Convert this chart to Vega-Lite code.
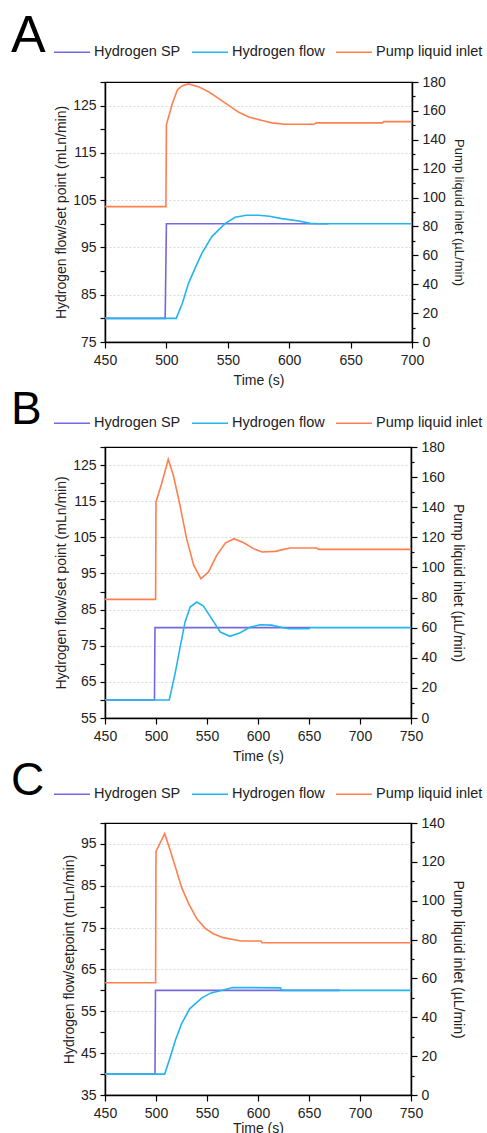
{
  "$schema": "https://vega.github.io/schema/vega-lite/v6.json",
  "autosize": {"type": "pad"},
  "padding": {"left": 10, "top": 9, "right": 0, "bottom": 0},
  "background": "white",
  "config": {
    "font": "Liberation Sans",
    "view": {"stroke": "black", "strokeWidth": 1.2},
    "axis": {
      "domainColor": "black", "domainWidth": 1.5, "tickColor": "black", "tickWidth": 1.2,
      "labelColor": "#222", "labelFontSize": 14, "labelFont": "Liberation Sans", "labelPadding": 4,
      "titleColor": "#222", "titleFontSize": 14, "titleFontWeight": "normal", "titleFont": "Liberation Sans",
      "labelOverlap": false, "labelFlush": false, "gridColor": "#d8d8d8", "gridDash": [2, 2], "gridWidth": 1
    },
    "axisX": {"grid": false, "labelPadding": 5},
    "legend": {"labelFont": "Liberation Sans", "labelFontSize": 14.5, "labelColor": "#222"},
    "title": {"font": "Liberation Sans", "fontWeight": "normal", "color": "black"},
    "line": {"strokeWidth": 1.6}
  },
  "datasets": {
    "A": [
      {"t": 450, "v": 80, "s": "Hydrogen SP"}, {"t": 499, "v": 80, "s": "Hydrogen SP"}, {"t": 500, "v": 100, "s": "Hydrogen SP"}, {"t": 632, "v": 100, "s": "Hydrogen SP"},
      {"t": 450, "v": 80, "s": "Hydrogen flow"}, {"t": 508, "v": 80, "s": "Hydrogen flow"}, {"t": 513, "v": 83.2, "s": "Hydrogen flow"}, {"t": 518, "v": 87.4, "s": "Hydrogen flow"}, {"t": 524, "v": 91, "s": "Hydrogen flow"}, {"t": 529, "v": 93.8, "s": "Hydrogen flow"}, {"t": 537, "v": 97.3, "s": "Hydrogen flow"}, {"t": 548, "v": 100.1, "s": "Hydrogen flow"}, {"t": 556, "v": 101.4, "s": "Hydrogen flow"}, {"t": 565, "v": 101.8, "s": "Hydrogen flow"}, {"t": 575, "v": 101.8, "s": "Hydrogen flow"}, {"t": 584, "v": 101.6, "s": "Hydrogen flow"}, {"t": 594, "v": 101.1, "s": "Hydrogen flow"}, {"t": 608, "v": 100.6, "s": "Hydrogen flow"}, {"t": 617, "v": 100.1, "s": "Hydrogen flow"}, {"t": 625, "v": 100, "s": "Hydrogen flow"}, {"t": 700, "v": 100, "s": "Hydrogen flow"},
      {"t": 450, "v": 93.7, "s": "Pump liquid inlet"}, {"t": 499.6, "v": 93.7, "s": "Pump liquid inlet"}, {"t": 500, "v": 150.5, "s": "Pump liquid inlet"}, {"t": 505, "v": 165.5, "s": "Pump liquid inlet"}, {"t": 509, "v": 174.7, "s": "Pump liquid inlet"}, {"t": 513, "v": 177.5, "s": "Pump liquid inlet"}, {"t": 518, "v": 178.7, "s": "Pump liquid inlet"}, {"t": 526.5, "v": 176.6, "s": "Pump liquid inlet"}, {"t": 535, "v": 172.9, "s": "Pump liquid inlet"}, {"t": 543, "v": 168.3, "s": "Pump liquid inlet"}, {"t": 551, "v": 163.6, "s": "Pump liquid inlet"}, {"t": 559, "v": 159, "s": "Pump liquid inlet"}, {"t": 567, "v": 155.8, "s": "Pump liquid inlet"}, {"t": 578, "v": 153.3, "s": "Pump liquid inlet"}, {"t": 586, "v": 151.7, "s": "Pump liquid inlet"}, {"t": 596, "v": 150.8, "s": "Pump liquid inlet"}, {"t": 600, "v": 150.7, "s": "Pump liquid inlet"}, {"t": 620, "v": 150.7, "s": "Pump liquid inlet"}, {"t": 622, "v": 151.7, "s": "Pump liquid inlet"}, {"t": 676, "v": 151.7, "s": "Pump liquid inlet"}, {"t": 677, "v": 152.6, "s": "Pump liquid inlet"}, {"t": 700, "v": 152.6, "s": "Pump liquid inlet"}
    ],
    "B": [
      {"t": 450, "v": 60, "s": "Hydrogen SP"}, {"t": 498.5, "v": 60, "s": "Hydrogen SP"}, {"t": 499, "v": 80, "s": "Hydrogen SP"}, {"t": 651, "v": 80, "s": "Hydrogen SP"},
      {"t": 450, "v": 60, "s": "Hydrogen flow"}, {"t": 513, "v": 60, "s": "Hydrogen flow"}, {"t": 519, "v": 67.7, "s": "Hydrogen flow"}, {"t": 524, "v": 75.1, "s": "Hydrogen flow"}, {"t": 528.5, "v": 81.6, "s": "Hydrogen flow"}, {"t": 533.5, "v": 85.7, "s": "Hydrogen flow"}, {"t": 540, "v": 87.1, "s": "Hydrogen flow"}, {"t": 546.5, "v": 86, "s": "Hydrogen flow"}, {"t": 554.5, "v": 82.5, "s": "Hydrogen flow"}, {"t": 563, "v": 78.8, "s": "Hydrogen flow"}, {"t": 572.5, "v": 77.6, "s": "Hydrogen flow"}, {"t": 582.5, "v": 78.6, "s": "Hydrogen flow"}, {"t": 592, "v": 80.1, "s": "Hydrogen flow"}, {"t": 602, "v": 80.8, "s": "Hydrogen flow"}, {"t": 613.5, "v": 80.7, "s": "Hydrogen flow"}, {"t": 621.5, "v": 80.2, "s": "Hydrogen flow"}, {"t": 630, "v": 79.7, "s": "Hydrogen flow"}, {"t": 650, "v": 79.7, "s": "Hydrogen flow"}, {"t": 651, "v": 80, "s": "Hydrogen flow"}, {"t": 750, "v": 80, "s": "Hydrogen flow"},
      {"t": 450, "v": 78.8, "s": "Pump liquid inlet"}, {"t": 499.6, "v": 78.8, "s": "Pump liquid inlet"}, {"t": 500, "v": 143.5, "s": "Pump liquid inlet"}, {"t": 505.5, "v": 155.6, "s": "Pump liquid inlet"}, {"t": 512, "v": 171.8, "s": "Pump liquid inlet"}, {"t": 517, "v": 161.2, "s": "Pump liquid inlet"}, {"t": 523.5, "v": 141.3, "s": "Pump liquid inlet"}, {"t": 530, "v": 119.1, "s": "Pump liquid inlet"}, {"t": 537, "v": 101.4, "s": "Pump liquid inlet"}, {"t": 544, "v": 92.5, "s": "Pump liquid inlet"}, {"t": 551.5, "v": 97, "s": "Pump liquid inlet"}, {"t": 559.5, "v": 108, "s": "Pump liquid inlet"}, {"t": 568, "v": 116.2, "s": "Pump liquid inlet"}, {"t": 576.5, "v": 119.1, "s": "Pump liquid inlet"}, {"t": 586, "v": 116.4, "s": "Pump liquid inlet"}, {"t": 595.5, "v": 112.5, "s": "Pump liquid inlet"}, {"t": 604, "v": 110.3, "s": "Pump liquid inlet"}, {"t": 617, "v": 110.7, "s": "Pump liquid inlet"}, {"t": 625, "v": 112, "s": "Pump liquid inlet"}, {"t": 631.5, "v": 112.9, "s": "Pump liquid inlet"}, {"t": 657.5, "v": 112.9, "s": "Pump liquid inlet"}, {"t": 659.5, "v": 112, "s": "Pump liquid inlet"}, {"t": 750, "v": 112, "s": "Pump liquid inlet"}
    ],
    "C": [
      {"t": 450, "v": 40, "s": "Hydrogen SP"}, {"t": 499, "v": 40, "s": "Hydrogen SP"}, {"t": 499.5, "v": 60, "s": "Hydrogen SP"}, {"t": 680, "v": 60, "s": "Hydrogen SP"},
      {"t": 450, "v": 40, "s": "Hydrogen flow"}, {"t": 508.5, "v": 40, "s": "Hydrogen flow"}, {"t": 514, "v": 44.1, "s": "Hydrogen flow"}, {"t": 519, "v": 48.1, "s": "Hydrogen flow"}, {"t": 525, "v": 52, "s": "Hydrogen flow"}, {"t": 533, "v": 55.6, "s": "Hydrogen flow"}, {"t": 545, "v": 58.2, "s": "Hydrogen flow"}, {"t": 554, "v": 59.4, "s": "Hydrogen flow"}, {"t": 566, "v": 60.1, "s": "Hydrogen flow"}, {"t": 575, "v": 60.7, "s": "Hydrogen flow"}, {"t": 622, "v": 60.6, "s": "Hydrogen flow"}, {"t": 623, "v": 60, "s": "Hydrogen flow"}, {"t": 750, "v": 60, "s": "Hydrogen flow"},
      {"t": 450, "v": 57.8, "s": "Pump liquid inlet"}, {"t": 499.6, "v": 57.8, "s": "Pump liquid inlet"}, {"t": 500, "v": 125.4, "s": "Pump liquid inlet"}, {"t": 508.5, "v": 134.5, "s": "Pump liquid inlet"}, {"t": 514, "v": 125.9, "s": "Pump liquid inlet"}, {"t": 519, "v": 117.3, "s": "Pump liquid inlet"}, {"t": 525, "v": 107, "s": "Pump liquid inlet"}, {"t": 532, "v": 98.5, "s": "Pump liquid inlet"}, {"t": 540, "v": 90.7, "s": "Pump liquid inlet"}, {"t": 548, "v": 85.9, "s": "Pump liquid inlet"}, {"t": 556, "v": 83, "s": "Pump liquid inlet"}, {"t": 566, "v": 81, "s": "Pump liquid inlet"}, {"t": 583, "v": 79.3, "s": "Pump liquid inlet"}, {"t": 603, "v": 79.3, "s": "Pump liquid inlet"}, {"t": 604, "v": 78.4, "s": "Pump liquid inlet"}, {"t": 750, "v": 78.4, "s": "Pump liquid inlet"}
    ]
  },
  "bounds": "flush",
  "spacing": 105,
  "resolve": {"legend": {"color": "independent"}, "scale": {"color": "independent"}},
  "vconcat": [
    {
      "width": 307, "height": 260,
      "title": {"text": "A", "anchor": "start", "frame": "group", "dx": -94, "fontSize": 52, "offset": -30},
      "data": {"name": "A"},
      "layer": [
        {
          "transform": [{"filter": "datum.s != 'Pump liquid inlet'"}],
          "mark": {"type": "line", "clip": true},
          "encoding": {
            "x": {"field": "t", "type": "quantitative", "scale": {"domain": [450, 700], "nice": false},
              "axis": {"title": "Time (s)", "grid": false, "values": [450, 475, 500, 525, 550, 575, 600, 625, 650, 675, 700], "labelExpr": "datum.value % 50 == 0 ? datum.label : ''", "tickSize": {"condition": {"test": "datum.value % 50 == 0", "value": 6}, "value": 3}, "titlePadding": 6}},
            "y": {"field": "v", "type": "quantitative", "scale": {"domain": [75, 130], "nice": false, "zero": false},
              "axis": {"title": "Hydrogen flow/set point (mLn/min)", "values": [75, 80, 85, 90, 95, 100, 105, 110, 115, 120, 125, 130], "labelExpr": "(datum.value - 75) % 10 == 0 ? datum.label : ''", "grid": true, "gridOpacity": {"condition": {"test": "(datum.value - 75) % 10 == 0 && datum.value > 75", "value": 1}, "value": 0}, "tickSize": 5, "titlePadding": 4}},
            "color": {"field": "s", "type": "nominal", "scale": {"domain": ["Hydrogen SP", "Hydrogen flow", "Pump liquid inlet"], "range": ["#7468E0", "#22B5F0", "#FF7F4F"]},
              "legend": {"title": null, "orient": "none", "legendX": -52, "legendY": -49, "direction": "horizontal", "symbolType": "stroke", "symbolSize": 1296, "symbolStrokeWidth": 2, "labelOffset": 3, "columnPadding": 7}}
          }
        },
        {
          "transform": [{"filter": "datum.s == 'Pump liquid inlet'"}],
          "mark": {"type": "line", "clip": true},
          "encoding": {
            "x": {"field": "t", "type": "quantitative"},
            "y": {"field": "v", "type": "quantitative", "scale": {"domain": [0, 180], "nice": false},
              "axis": {"orient": "right", "title": "Pump  liquid inlet (µL/min)", "titleFontSize": 13, "values": [0, 10, 20, 30, 40, 50, 60, 70, 80, 90, 100, 110, 120, 130, 140, 150, 160, 170, 180], "labelExpr": "datum.value % 20 == 0 ? datum.label : ''", "tickSize": {"condition": {"test": "datum.value % 20 == 0", "value": 6}, "value": 3}, "grid": false, "titlePadding": 6}},
            "color": {"field": "s", "type": "nominal"}
          }
        }
      ],
      "resolve": {"scale": {"y": "independent"}}
    },
    {
      "width": 306, "height": 271,
      "title": {"text": "B", "anchor": "start", "frame": "group", "dx": -94, "fontSize": 46, "offset": -30},
      "data": {"name": "B"},
      "layer": [
        {
          "transform": [{"filter": "datum.s != 'Pump liquid inlet'"}],
          "mark": {"type": "line", "clip": true},
          "encoding": {
            "x": {"field": "t", "type": "quantitative", "scale": {"domain": [450, 750], "nice": false},
              "axis": {"title": "Time (s)", "grid": false, "values": [450, 475, 500, 525, 550, 575, 600, 625, 650, 675, 700, 725, 750], "labelExpr": "datum.value % 50 == 0 ? datum.label : ''", "tickSize": {"condition": {"test": "datum.value % 50 == 0", "value": 6}, "value": 3}, "titlePadding": 6}},
            "y": {"field": "v", "type": "quantitative", "scale": {"domain": [55, 130], "nice": false, "zero": false},
              "axis": {"title": "Hydrogen flow/set point (mLn/min)", "values": [55, 60, 65, 70, 75, 80, 85, 90, 95, 100, 105, 110, 115, 120, 125, 130], "labelExpr": "(datum.value - 55) % 10 == 0 ? datum.label : ''", "grid": true, "gridOpacity": {"condition": {"test": "(datum.value - 55) % 10 == 0 && datum.value > 55", "value": 1}, "value": 0}, "tickSize": 5, "titlePadding": 4}},
            "color": {"field": "s", "type": "nominal", "scale": {"domain": ["Hydrogen SP", "Hydrogen flow", "Pump liquid inlet"], "range": ["#7468E0", "#22B5F0", "#FF7F4F"]},
              "legend": {"title": null, "orient": "none", "legendX": -52, "legendY": -43, "direction": "horizontal", "symbolType": "stroke", "symbolSize": 1296, "symbolStrokeWidth": 2, "labelOffset": 3, "columnPadding": 7}}
          }
        },
        {
          "transform": [{"filter": "datum.s == 'Pump liquid inlet'"}],
          "mark": {"type": "line", "clip": true},
          "encoding": {
            "x": {"field": "t", "type": "quantitative"},
            "y": {"field": "v", "type": "quantitative", "scale": {"domain": [0, 180], "nice": false},
              "axis": {"orient": "right", "title": "Pump  liquid inlet (µL/min)", "values": [0, 10, 20, 30, 40, 50, 60, 70, 80, 90, 100, 110, 120, 130, 140, 150, 160, 170, 180], "labelExpr": "datum.value % 20 == 0 ? datum.label : ''", "tickSize": {"condition": {"test": "datum.value % 20 == 0", "value": 6}, "value": 3}, "grid": false, "titlePadding": 6}},
            "color": {"field": "s", "type": "nominal"}
          }
        }
      ],
      "resolve": {"scale": {"y": "independent"}}
    },
    {
      "width": 306, "height": 272,
      "title": {"text": "C", "anchor": "start", "frame": "group", "dx": -94, "fontSize": 46, "offset": -30},
      "data": {"name": "C"},
      "layer": [
        {
          "transform": [{"filter": "datum.s != 'Pump liquid inlet'"}],
          "mark": {"type": "line", "clip": true},
          "encoding": {
            "x": {"field": "t", "type": "quantitative", "scale": {"domain": [450, 750], "nice": false},
              "axis": {"title": "Time (s)", "grid": false, "values": [450, 475, 500, 525, 550, 575, 600, 625, 650, 675, 700, 725, 750], "labelExpr": "datum.value % 50 == 0 ? datum.label : ''", "tickSize": {"condition": {"test": "datum.value % 50 == 0", "value": 6}, "value": 3}, "titlePadding": 1}},
            "y": {"field": "v", "type": "quantitative", "scale": {"domain": [35, 100], "nice": false, "zero": false},
              "axis": {"title": "Hydrogen flow/setpoint (mLn/min)", "values": [35, 40, 45, 50, 55, 60, 65, 70, 75, 80, 85, 90, 95, 100], "labelExpr": "(datum.value - 35) % 10 == 0 ? datum.label : ''", "grid": true, "gridOpacity": {"condition": {"test": "(datum.value - 35) % 10 == 0 && datum.value > 35", "value": 1}, "value": 0}, "tickSize": 5, "titlePadding": 4}},
            "color": {"field": "s", "type": "nominal", "scale": {"domain": ["Hydrogen SP", "Hydrogen flow", "Pump liquid inlet"], "range": ["#7468E0", "#22B5F0", "#FF7F4F"]},
              "legend": {"title": null, "orient": "none", "legendX": -52, "legendY": -48, "direction": "horizontal", "symbolType": "stroke", "symbolSize": 1296, "symbolStrokeWidth": 2, "labelOffset": 3, "columnPadding": 7}}
          }
        },
        {
          "transform": [{"filter": "datum.s == 'Pump liquid inlet'"}],
          "mark": {"type": "line", "clip": true},
          "encoding": {
            "x": {"field": "t", "type": "quantitative"},
            "y": {"field": "v", "type": "quantitative", "scale": {"domain": [0, 140], "nice": false},
              "axis": {"orient": "right", "title": "Pump  liquid inlet (µL/min)", "values": [0, 10, 20, 30, 40, 50, 60, 70, 80, 90, 100, 110, 120, 130, 140], "labelExpr": "datum.value % 20 == 0 ? datum.label : ''", "tickSize": {"condition": {"test": "datum.value % 20 == 0", "value": 6}, "value": 3}, "grid": false, "titlePadding": 6}},
            "color": {"field": "s", "type": "nominal"}
          }
        }
      ],
      "resolve": {"scale": {"y": "independent"}}
    }
  ]
}
